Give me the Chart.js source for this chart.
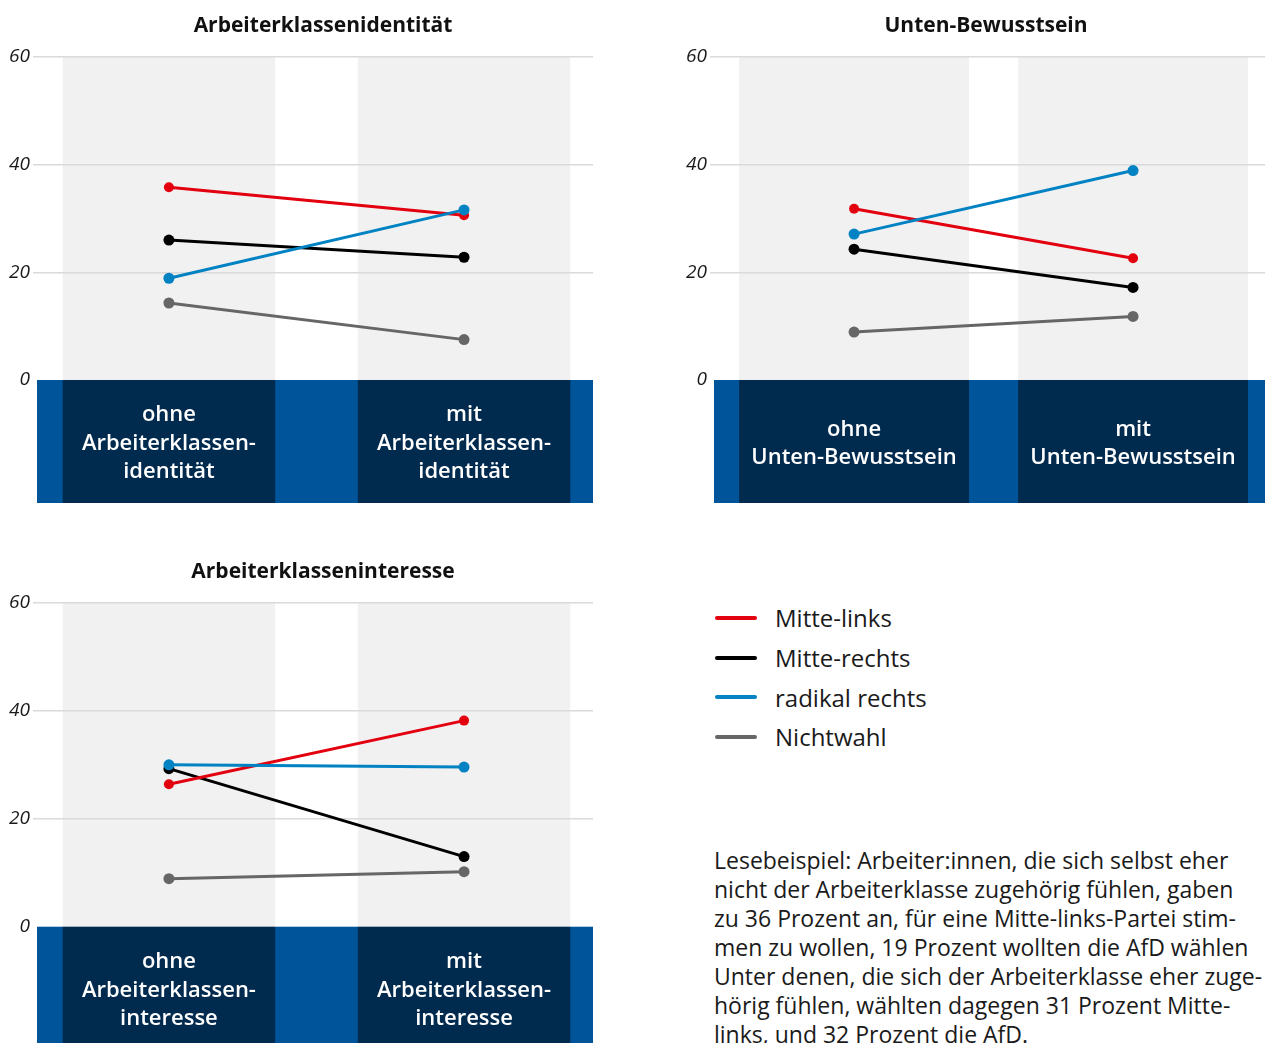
<!DOCTYPE html>
<html lang="de">
<head>
<meta charset="utf-8">
<title>Wahlabsicht nach Klassenbewusstsein</title>
<script src="https://cdn.jsdelivr.net/npm/chart.js@4.4.1/dist/chart.umd.min.js"></script>
<style>
  html, body { margin: 0; padding: 0; width: 1265px; height: 1043px; overflow: hidden; background: #fff; }
  body { position: relative; font-family: "Open Sans", "Noto Sans", sans-serif; color: #1a1a1a; }
  canvas { position: absolute; }
  #legend { position: absolute; left: 715px; top: 598px; font-size: 24px; }
  #legend .item { height: 39.7px; display: flex; align-items: center; }
  #legend .swatch { width: 42px; height: 4px; border-radius: 2px; margin-right: 18px; }
  #note { position: absolute; left: 714px; top: 846px; font-size: 23px; line-height: 29px; white-space: nowrap; }
</style>
</head>
<body>
<canvas id="ident"></canvas>
<canvas id="unten"></canvas>
<canvas id="interesse"></canvas>
<div id="legend"></div>
<div id="note">Lesebeispiel: Arbeiter:innen, die sich selbst eher<br>nicht der Arbeiterklasse zugehörig fühlen, gaben<br>zu 36 Prozent an, für eine Mitte-links-Partei stim-<br>men zu wollen, 19 Prozent wollten die AfD wählen<br>Unter denen, die sich der Arbeiterklasse eher zuge-<br>hörig fühlen, wählten dagegen 31 Prozent Mitte-<br>links, und 32 Prozent die AfD.</div>
<script>
// series
const seriesNames = ['Mitte-links', 'Mitte-rechts', 'radikal rechts', 'Nichtwahl'];
const seriesColors = ['#e3000f', '#000000', '#0082c3', '#666666'];
const drawOrder = [1, 2, 0, 3]; // blue on top

const yTicks = [0, 20, 40, 60];

// Arbeiterklassenidentität
const identTitle = 'Arbeiterklassenidentität';
const identCategories = ['ohne\nArbeiterklassen-\nidentität', 'mit\nArbeiterklassen-\nidentität'];
const identMitteLinks = [35.8, 30.6];
const identMitteRechts = [26.0, 22.8];
const identRadikalRechts = [18.9, 31.6];
const identNichtwahl = [14.3, 7.5];

// Unten-Bewusstsein
const untenTitle = 'Unten-Bewusstsein';
const untenCategories = ['ohne\nUnten-Bewusstsein', 'mit\nUnten-Bewusstsein'];
const untenMitteLinks = [31.8, 22.6];
const untenMitteRechts = [24.3, 17.2];
const untenRadikalRechts = [27.1, 38.9];
const untenNichtwahl = [8.9, 11.8];

// Arbeiterklasseninteresse
const interesseTitle = 'Arbeiterklasseninteresse';
const interesseCategories = ['ohne\nArbeiterklassen-\ninteresse', 'mit\nArbeiterklassen-\ninteresse'];
const interesseMitteLinks = [26.4, 38.2];
const interesseMitteRechts = [29.3, 13.0];
const interesseRadikalRechts = [30.0, 29.6];
const interesseNichtwahl = [8.9, 10.2];

const FONT = '"Open Sans", "Noto Sans", sans-serif';
const bandDepth = 22.85; // height of the label band below 0, in axis units

const panels = [
  { id: 'ident', title: identTitle, categories: identCategories,
    values: [identMitteLinks, identMitteRechts, identRadikalRechts, identNichtwahl],
    left: 0, top: 0, width: 593, height: 523, axisWidth: 37, titleX: 323,
    xMin: -0.447, xMax: 1.437, half: 0.36 },
  { id: 'unten', title: untenTitle, categories: untenCategories,
    values: [untenMitteLinks, untenMitteRechts, untenRadikalRechts, untenNichtwahl],
    left: 680, top: 0, width: 585, height: 523, axisWidth: 34, titleX: 306,
    xMin: -0.502, xMax: 1.473, half: 0.412 },
  { id: 'interesse', title: interesseTitle, categories: interesseCategories,
    values: [interesseMitteLinks, interesseMitteRechts, interesseRadikalRechts, interesseNichtwahl],
    left: 0, top: 546, width: 593, height: 524, axisWidth: 37, titleX: 323,
    xMin: -0.447, xMax: 1.437, half: 0.36 }
];

function panelBackground(p) {
  return {
    id: 'panelBackground',
    beforeDraw(chart) {
      const { ctx, chartArea: a, scales: { x, y } } = chart;
      const y0 = y.getPixelForValue(0);
      ctx.save();
      ctx.fillStyle = '#00559a';
      ctx.fillRect(a.left, y0, a.right - a.left, a.bottom - y0);
      p.categories.forEach((c, i) => {
        const l = x.getPixelForValue(i - p.half), r = x.getPixelForValue(i + p.half);
        ctx.fillStyle = '#f1f1f1';
        ctx.fillRect(l, a.top, r - l, y0 - a.top);
        ctx.fillStyle = '#012a4f';
        ctx.fillRect(l, y0, r - l, a.bottom - y0);
      });
      ctx.restore();
    },
    afterDraw(chart) {
      const { ctx, chartArea: a, scales: { x, y } } = chart;
      const y0 = y.getPixelForValue(0);
      const mid = (y0 + y.getPixelForValue(-bandDepth)) / 2 + 2;
      ctx.save();
      // panel title
      ctx.fillStyle = '#111111';
      ctx.font = 'bold 21px ' + FONT;
      ctx.textAlign = 'center';
      ctx.textBaseline = 'alphabetic';
      ctx.fillText(p.title, p.titleX, a.top - 25.5);
      // category labels inside the band
      ctx.fillStyle = '#ffffff';
      ctx.font = '600 22px ' + FONT;
      ctx.textBaseline = 'middle';
      p.categories.forEach((c, i) => {
        const lines = c.split('\n');
        const lh = 28.5;
        lines.forEach((t, j) => {
          ctx.fillText(t, x.getPixelForValue(i), mid + (j - (lines.length - 1) / 2) * lh);
        });
      });
      ctx.restore();
    }
  };
}

panels.forEach(p => {
  const canvas = document.getElementById(p.id);
  canvas.width = p.width;
  canvas.height = p.height;
  canvas.style.left = p.left + 'px';
  canvas.style.top = p.top + 'px';

  new Chart(canvas, {
    type: 'line',
    data: {
      datasets: seriesNames.map((name, k) => ({
        label: name,
        data: p.values[k].map((v, i) => ({ x: i, y: v })),
        borderColor: seriesColors[k],
        backgroundColor: seriesColors[k],
        borderWidth: 3,
        pointRadius: k === 0 ? 5 : 5.5,
        pointBorderWidth: 0,
        order: drawOrder[k]
      }))
    },
    options: {
      responsive: false,
      animation: false,
      devicePixelRatio: 1,
      layout: { autoPadding: false, padding: { top: 57, left: 0, right: 0, bottom: 20 } },
      scales: {
        x: { type: 'linear', min: p.xMin, max: p.xMax, display: false },
        y: {
          min: -bandDepth,
          max: 60,
          afterBuildTicks: s => { s.ticks = yTicks.map(v => ({ value: v })); },
          afterFit: s => { s.width = p.axisWidth; },
          border: { display: false },
          grid: {
            color: c => (c.tick && c.tick.value === 0) ? 'rgba(0,0,0,0)' : '#dadada',
            lineWidth: 1.5,
            tickLength: 4
          },
          ticks: {
            padding: 3,
            color: '#1a1a1a',
            font: { family: FONT, size: 19, style: 'italic' }
          }
        }
      },
      plugins: {
        legend: { display: false },
        tooltip: { enabled: false },
        title: { display: false }
      }
    },
    plugins: [panelBackground(p)]
  });
});

// legend
const legend = document.getElementById('legend');
seriesNames.forEach((name, k) => {
  const item = document.createElement('div');
  item.className = 'item';
  const sw = document.createElement('span');
  sw.className = 'swatch';
  sw.style.background = seriesColors[k];
  const label = document.createElement('span');
  label.textContent = name;
  item.appendChild(sw);
  item.appendChild(label);
  legend.appendChild(item);
});
</script>
</body>
</html>
